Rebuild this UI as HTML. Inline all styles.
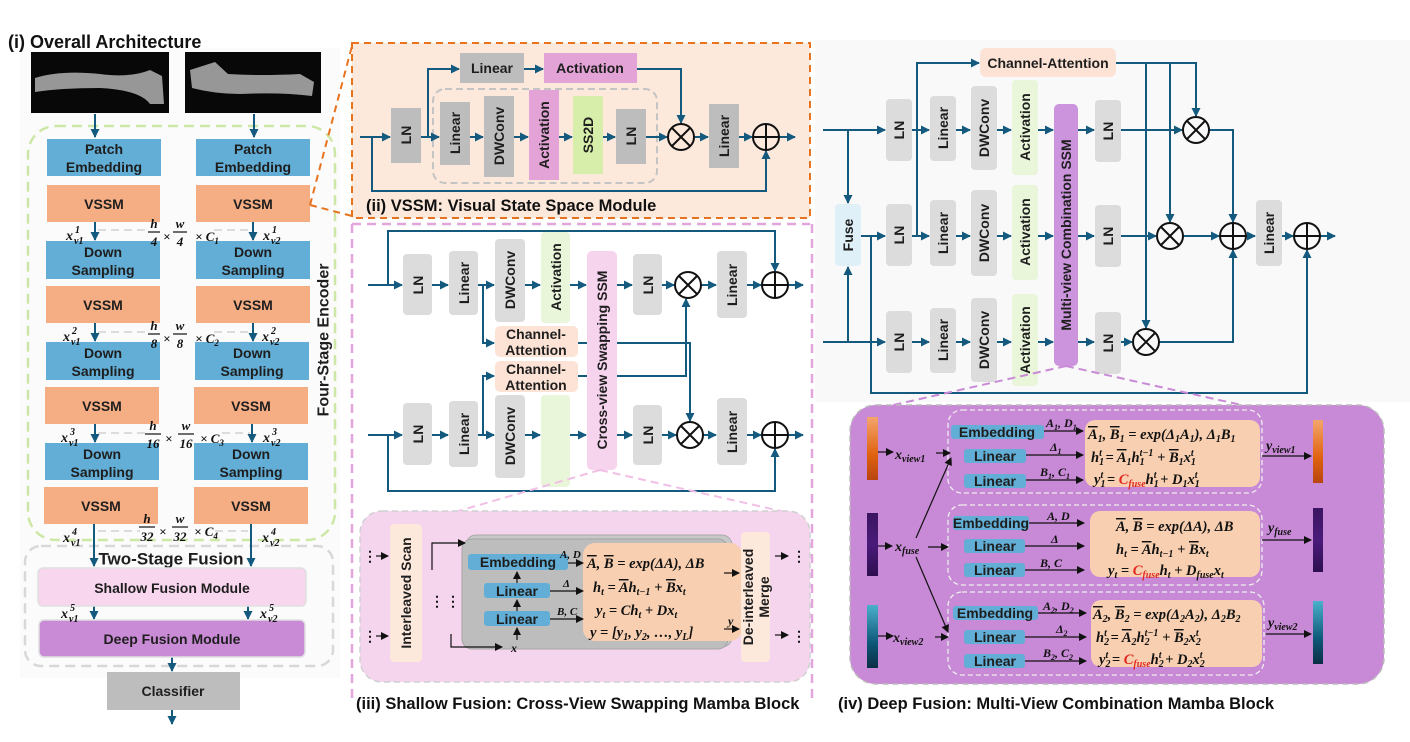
<!DOCTYPE html>
<html><head><meta charset="utf-8"><style>
html,body{margin:0;padding:0;background:#fff;}
svg{display:block;font-family:"Liberation Sans",sans-serif;}
.t{font-size:14px;font-weight:bold;fill:#1e1e1e;text-anchor:middle;dominant-baseline:central;}
.m{font-family:"Liberation Serif",serif;font-style:italic;font-weight:bold;fill:#111;}
.ln{stroke:#145a7e;stroke-width:2;fill:none;}
.bl{stroke:#111;stroke-width:1.2;fill:none;}
.c{stroke:#111;stroke-width:2;fill:none;}
.cap{font-size:16.5px;font-weight:bold;fill:#111;}
</style></head><body>
<svg width="1410" height="742" viewBox="0 0 1410 742" xmlns="http://www.w3.org/2000/svg">
<defs>
<marker id="a" markerUnits="userSpaceOnUse" markerWidth="9" markerHeight="9" refX="8" refY="4.5" orient="auto"><path d="M0,0 L9,4.5 L0,9 z" fill="#145a7e"/></marker>
<marker id="b" markerUnits="userSpaceOnUse" markerWidth="8" markerHeight="8" refX="7" refY="4" orient="auto"><path d="M0,0 L8,4 L0,8 z" fill="#111"/></marker>
<linearGradient id="g1" x1="0" y1="0" x2="0" y2="1"><stop offset="0" stop-color="#f4a56c"/><stop offset=".6" stop-color="#e0620f"/><stop offset="1" stop-color="#b84510"/></linearGradient>
<linearGradient id="g2" x1="0" y1="0" x2="0" y2="1"><stop offset="0" stop-color="#3a1560"/><stop offset=".5" stop-color="#4a1a7a"/><stop offset="1" stop-color="#2e0f50"/></linearGradient>
<linearGradient id="g3" x1="0" y1="0" x2="0" y2="1"><stop offset="0" stop-color="#4bb0cc"/><stop offset=".6" stop-color="#0e5878"/><stop offset="1" stop-color="#0a2e44"/></linearGradient>
</defs>

<rect x="20" y="48" width="320" height="630" fill="#fbfbfb"/>
<rect x="815" y="40" width="595" height="362" fill="#f9f9f9"/>

<!-- ============ LEFT PANEL ============ -->
<text x="8" y="48" font-size="18" font-weight="bold" fill="#111">(i) Overall Architecture</text>
<rect x="31" y="52" width="138" height="61" fill="#080808"/>
<path d="M35,78 Q60,70 100,74 Q130,78 150,70 L162,76 L164,104 L150,104 Q140,90 100,88 Q60,88 35,92z" fill="#b0b0b0" opacity=".85"/>
<rect x="185" y="52" width="136" height="61" fill="#080808"/>
<path d="M190,70 L215,62 L228,74 Q260,76 300,74 L314,82 L312,96 Q280,92 240,94 Q215,94 192,88z" fill="#b0b0b0" opacity=".85"/>
<rect x="28" y="126" width="307" height="414" rx="28" fill="none" stroke="#cde8a6" stroke-width="2.5" stroke-dasharray="10,6"/>
<rect x="25" y="546" width="308" height="120" rx="16" fill="none" stroke="#d8d8d8" stroke-width="2.5" stroke-dasharray="10,6"/>

<g class="ln">
<path d="M95,114 V137" marker-end="url(#a)"/><path d="M254,114 V137" marker-end="url(#a)"/>
<path d="M95,222 V240" marker-end="url(#a)"/><path d="M253,222 V240" marker-end="url(#a)"/>
<path d="M95,323 V341" marker-end="url(#a)"/><path d="M253,323 V341" marker-end="url(#a)"/>
<path d="M95,424 V442" marker-end="url(#a)"/><path d="M252,424 V442" marker-end="url(#a)"/>
<path d="M94,524 V566" marker-end="url(#a)"/><path d="M251,524 V566" marker-end="url(#a)"/>
<path d="M94,606 V619" marker-end="url(#a)"/><path d="M248,606 V619" marker-end="url(#a)"/>
<path d="M172,657 V671" marker-end="url(#a)"/><path d="M172,710 V724" marker-end="url(#a)"/>
</g>
<g stroke="#dcdcdc" stroke-width="2" stroke-dasharray="8,5">
<path d="M98,230 H148 M214,230 H250"/><path d="M98,332 H148 M214,332 H250"/>
<path d="M98,433 H145 M222,433 H250"/><path d="M98,531 H140 M215,531 H248"/>
</g>
<g class="t">
<rect x="47" y="139" width="114" height="37" fill="#62aed6"/><text x="104" y="149">Patch</text><text x="104" y="167">Embedding</text>
<rect x="196" y="139" width="114" height="37" fill="#62aed6"/><text x="253" y="149">Patch</text><text x="253" y="167">Embedding</text>
<rect x="47" y="185" width="113" height="37" fill="#f5ad84"/><text x="104" y="204">VSSM</text>
<rect x="196" y="185" width="114" height="37" fill="#f5ad84"/><text x="253" y="204">VSSM</text>
<rect x="46" y="241" width="114" height="38" fill="#62aed6"/><text x="103" y="252">Down</text><text x="103" y="270">Sampling</text>
<rect x="196" y="241" width="114" height="38" fill="#62aed6"/><text x="253" y="252">Down</text><text x="253" y="270">Sampling</text>
<rect x="46" y="286" width="114" height="37" fill="#f5ad84"/><text x="103" y="305">VSSM</text>
<rect x="196" y="286" width="114" height="37" fill="#f5ad84"/><text x="253" y="305">VSSM</text>
<rect x="46" y="342" width="114" height="38" fill="#62aed6"/><text x="103" y="353">Down</text><text x="103" y="371">Sampling</text>
<rect x="195" y="342" width="114" height="38" fill="#62aed6"/><text x="252" y="353">Down</text><text x="252" y="371">Sampling</text>
<rect x="45" y="387" width="114" height="37" fill="#f5ad84"/><text x="102" y="406">VSSM</text>
<rect x="194" y="387" width="114" height="37" fill="#f5ad84"/><text x="251" y="406">VSSM</text>
<rect x="45" y="443" width="114" height="37" fill="#62aed6"/><text x="102" y="454">Down</text><text x="102" y="472">Sampling</text>
<rect x="194" y="443" width="114" height="37" fill="#62aed6"/><text x="251" y="454">Down</text><text x="251" y="472">Sampling</text>
<rect x="44" y="487" width="114" height="37" fill="#f5ad84"/><text x="101" y="506">VSSM</text>
<rect x="194" y="487" width="114" height="37" fill="#f5ad84"/><text x="251" y="506">VSSM</text>
<text x="171" y="559" font-size="17">Two-Stage Fusion</text>
<rect x="38" y="568" width="268" height="38" rx="5" fill="#f7d6ee" stroke="#e0e0e0" stroke-width="1.5"/><text x="172" y="588">Shallow Fusion Module</text>
<rect x="39" y="620" width="266" height="37" rx="5" fill="#c98ad6" stroke="#e0e0e0" stroke-width="1.5"/><text x="172" y="639">Deep Fusion Module</text>
<rect x="107" y="672" width="133" height="38" fill="#bdbdbd"/><text x="173" y="691">Classifier</text>
<text transform="translate(324,340) rotate(-90)" font-size="16">Four-Stage Encoder</text>
</g>
<!-- x_v labels -->
<g class="m" font-size="14">
<text x="66" y="240">x</text><text x="74" y="244" font-size="10">v1</text><text x="75" y="233" font-size="10">1</text>
<text x="263" y="240">x</text><text x="271" y="244" font-size="10">v2</text><text x="272" y="233" font-size="10">1</text>
<text x="63" y="341">x</text><text x="71" y="345" font-size="10">v1</text><text x="72" y="334" font-size="10">2</text>
<text x="262" y="341">x</text><text x="270" y="345" font-size="10">v2</text><text x="271" y="334" font-size="10">2</text>
<text x="61" y="442">x</text><text x="69" y="446" font-size="10">v1</text><text x="70" y="435" font-size="10">3</text>
<text x="263" y="442">x</text><text x="271" y="446" font-size="10">v2</text><text x="272" y="435" font-size="10">3</text>
<text x="63" y="542">x</text><text x="71" y="546" font-size="10">v1</text><text x="72" y="535" font-size="10">4</text>
<text x="262" y="542">x</text><text x="270" y="546" font-size="10">v2</text><text x="271" y="535" font-size="10">4</text>
<text x="61" y="618">x</text><text x="69" y="622" font-size="10">v1</text><text x="70" y="611" font-size="10">5</text>
<text x="260" y="618">x</text><text x="268" y="622" font-size="10">v2</text><text x="269" y="611" font-size="10">5</text>
</g>
<g class="m" font-size="13" text-anchor="middle">
<text x="154" y="228">h</text><text x="154" y="246">4</text><line x1="148" y1="232" x2="160" y2="232" stroke="#111" stroke-width="1.2"/>
<text x="167" y="241" font-style="normal">×</text>
<text x="180" y="228">w</text><text x="180" y="246">4</text><line x1="173" y1="232" x2="187" y2="232" stroke="#111" stroke-width="1.2"/>
<text x="207" y="241">× C<tspan font-size="9" dy="3">1</tspan></text>
<text x="154" y="330">h</text><text x="154" y="348">8</text><line x1="148" y1="334" x2="160" y2="334" stroke="#111" stroke-width="1.2"/>
<text x="167" y="343" font-style="normal">×</text>
<text x="180" y="330">w</text><text x="180" y="348">8</text><line x1="173" y1="334" x2="187" y2="334" stroke="#111" stroke-width="1.2"/>
<text x="207" y="343">× C<tspan font-size="9" dy="3">2</tspan></text>
<text x="153" y="430">h</text><text x="153" y="448">16</text><line x1="145" y1="434" x2="161" y2="434" stroke="#111" stroke-width="1.2"/>
<text x="169" y="443" font-style="normal">×</text>
<text x="186" y="430">w</text><text x="186" y="448">16</text><line x1="178" y1="434" x2="194" y2="434" stroke="#111" stroke-width="1.2"/>
<text x="212" y="443">× C<tspan font-size="9" dy="3">3</tspan></text>
<text x="147" y="523">h</text><text x="147" y="541">32</text><line x1="139" y1="527" x2="155" y2="527" stroke="#111" stroke-width="1.2"/>
<text x="163" y="536" font-style="normal">×</text>
<text x="180" y="523">w</text><text x="180" y="541">32</text><line x1="172" y1="527" x2="188" y2="527" stroke="#111" stroke-width="1.2"/>
<text x="206" y="536">× C<tspan font-size="9" dy="3">4</tspan></text>
</g>

<path d="M310,205 L352,46" stroke="#e8731f" stroke-width="2" stroke-dasharray="7,5" fill="none"/>
<path d="M310,205 L352,216" stroke="#e8731f" stroke-width="2" stroke-dasharray="7,5" fill="none"/>

<!-- ============ PANEL ii VSSM ============ -->
<rect x="352" y="43" width="458" height="175" fill="#fde9dc" stroke="#e8731f" stroke-width="2" stroke-dasharray="7,5"/>
<rect x="433" y="89" width="224" height="94" rx="12" fill="none" stroke="#c4c4c4" stroke-width="2" stroke-dasharray="7,4"/>
<g class="ln">
<path d="M360,137 H390" marker-end="url(#a)"/><path d="M421,137 H439" marker-end="url(#a)"/>
<path d="M470,137 H483" marker-end="url(#a)"/><path d="M514,137 H528" marker-end="url(#a)"/>
<path d="M559,137 H572" marker-end="url(#a)"/><path d="M603,137 H615" marker-end="url(#a)"/>
<path d="M646,137 H667" marker-end="url(#a)"/><path d="M694,137 H708" marker-end="url(#a)"/>
<path d="M739,137 H752" marker-end="url(#a)"/><path d="M779,137 H795" marker-end="url(#a)"/>
<path d="M428,137 V69 H459" marker-end="url(#a)"/><path d="M524,69 H543" marker-end="url(#a)"/>
<path d="M637,69 H681 V123" marker-end="url(#a)"/>
<path d="M372,137 V191 H766 V151" marker-end="url(#a)"/>
</g>
<g class="t">
<rect x="391" y="108" width="30" height="55" fill="#bdbdbd"/><text transform="translate(406,135) rotate(-90)">LN</text>
<rect x="460" y="53" width="64" height="30" fill="#bdbdbd"/><text x="492" y="68">Linear</text>
<rect x="544" y="53" width="93" height="30" fill="#e4a3d6"/><text x="590" y="68">Activation</text>
<rect x="440" y="102" width="30" height="63" fill="#bdbdbd"/><text transform="translate(455,133) rotate(-90)">Linear</text>
<rect x="484" y="96" width="30" height="81" fill="#bdbdbd"/><text transform="translate(499,136) rotate(-90)">DWConv</text>
<rect x="529" y="90" width="30" height="90" fill="#e4a3d6"/><text transform="translate(544,135) rotate(-90)">Activation</text>
<rect x="573" y="96" width="30" height="78" fill="#d7eeaa"/><text transform="translate(588,135) rotate(-90)">SS2D</text>
<rect x="616" y="109" width="30" height="55" fill="#bdbdbd"/><text transform="translate(631,136) rotate(-90)">LN</text>
<rect x="709" y="104" width="30" height="64" fill="#bdbdbd"/><text transform="translate(724,136) rotate(-90)">Linear</text>
</g>
<circle cx="681" cy="137" r="13" class="c"/><path d="M672,128 L690,146 M690,128 L672,146" class="c"/>
<circle cx="766" cy="137" r="13" class="c"/><path d="M753,137 H779 M766,124 V150" class="c"/>
<text x="366" y="211" class="cap" font-size="17">(ii) VSSM: Visual State Space Module</text>

<!-- ============ PANEL iii ============ -->
<path d="M352,224 H810 M352,224 V700 M812,224 V700" stroke="#e2a6dc" stroke-width="2.5" stroke-dasharray="9,6" fill="none"/>
<g class="ln">
<path d="M368,285 H402" marker-end="url(#a)"/><path d="M432,285 H448" marker-end="url(#a)"/>
<path d="M478,285 H494" marker-end="url(#a)"/><path d="M525,285 H540" marker-end="url(#a)"/>
<path d="M570,285 H586" marker-end="url(#a)"/><path d="M617,285 H632" marker-end="url(#a)"/>
<path d="M662,285 H674" marker-end="url(#a)"/><path d="M701,285 H716" marker-end="url(#a)"/>
<path d="M747,285 H761" marker-end="url(#a)"/><path d="M788,285 H803" marker-end="url(#a)"/>
<path d="M388,285 V231 H775 V271" marker-end="url(#a)"/>
<path d="M368,435 H402" marker-end="url(#a)"/><path d="M432,435 H448" marker-end="url(#a)"/>
<path d="M478,435 H494" marker-end="url(#a)"/><path d="M525,435 H540" marker-end="url(#a)"/>
<path d="M570,435 H586" marker-end="url(#a)"/><path d="M617,435 H632" marker-end="url(#a)"/>
<path d="M662,435 H676" marker-end="url(#a)"/><path d="M703,435 H716" marker-end="url(#a)"/>
<path d="M747,435 H761" marker-end="url(#a)"/><path d="M788,435 H803" marker-end="url(#a)"/>
<path d="M388,435 V491 H775 V449" marker-end="url(#a)"/>
<path d="M483,285 V343 H494" marker-end="url(#a)"/><path d="M483,435 V376 H494" marker-end="url(#a)"/>
<path d="M578,343 H690 V421" marker-end="url(#a)"/><path d="M578,376 H686 V299" marker-end="url(#a)"/>
</g>
<g class="t">
<rect x="403" y="254" width="29" height="61" rx="4" fill="#dcdcdc"/><text transform="translate(418,285) rotate(-90)">LN</text>
<rect x="449" y="251" width="29" height="64" rx="4" fill="#dcdcdc"/><text transform="translate(464,283) rotate(-90)">Linear</text>
<rect x="495" y="239" width="30" height="83" rx="4" fill="#dcdcdc"/><text transform="translate(510,280) rotate(-90)">DWConv</text>
<rect x="541" y="232" width="29" height="91" rx="4" fill="#e9f6d9"/><text transform="translate(556,277) rotate(-90)">Activation</text>
<rect x="633" y="254" width="29" height="61" rx="4" fill="#dcdcdc"/><text transform="translate(648,285) rotate(-90)">LN</text>
<rect x="717" y="251" width="30" height="67" rx="4" fill="#dcdcdc"/><text transform="translate(732,285) rotate(-90)">Linear</text>
<rect x="495" y="326" width="83" height="31" rx="5" fill="#fde3d5"/><text x="536" y="334">Channel-</text><text x="536" y="350">Attention</text>
<rect x="495" y="361" width="83" height="31" rx="5" fill="#fde3d5"/><text x="536" y="369">Channel-</text><text x="536" y="385">Attention</text>
<rect x="403" y="403" width="29" height="62" rx="4" fill="#dcdcdc"/><text transform="translate(418,434) rotate(-90)">LN</text>
<rect x="449" y="401" width="29" height="66" rx="4" fill="#dcdcdc"/><text transform="translate(464,434) rotate(-90)">Linear</text>
<rect x="495" y="395" width="30" height="83" rx="4" fill="#dcdcdc"/><text transform="translate(510,436) rotate(-90)">DWConv</text>
<rect x="541" y="395" width="29" height="92" rx="4" fill="#e9f6d9"/>
<rect x="633" y="405" width="29" height="60" rx="4" fill="#dcdcdc"/><text transform="translate(648,435) rotate(-90)">LN</text>
<rect x="717" y="398" width="30" height="67" rx="4" fill="#dcdcdc"/><text transform="translate(732,432) rotate(-90)">Linear</text>
<rect x="587" y="251" width="30" height="219" rx="5" fill="#f7d4ee"/><text transform="translate(602,360) rotate(-90)">Cross-view Swapping SSM</text>
</g>
<circle cx="688" cy="285" r="13" class="c"/><path d="M679,276 L697,294 M697,276 L679,294" class="c"/>
<circle cx="775" cy="285" r="13" class="c"/><path d="M762,285 H788 M775,272 V298" class="c"/>
<circle cx="690" cy="435" r="13" class="c"/><path d="M681,426 L699,444 M699,426 L681,444" class="c"/>
<circle cx="775" cy="435" r="13" class="c"/><path d="M762,435 H788 M775,422 V448" class="c"/>
<path d="M600,470 L455,512 M600,470 L785,512" stroke="#f1bfe6" stroke-width="2" stroke-dasharray="8,5" fill="none"/>

<rect x="360" y="511" width="450" height="171" rx="22" fill="#f5d5ee" stroke="#d0d0d0" stroke-width="1.5" stroke-dasharray="6,4"/>
<rect x="390" y="524" width="32" height="138" rx="4" fill="#fde8dc"/>
<text class="t" transform="translate(406,593) rotate(-90)">Interleaved Scan</text>
<rect x="466" y="535" width="266" height="112" rx="10" fill="#c8c8c8" stroke="#aaa"/>
<rect x="462" y="539" width="266" height="110" rx="10" fill="#bdbdbd" stroke="#a5a5a5"/>
<rect x="583" y="543" width="159" height="98" rx="12" fill="#f8cfb0"/>
<rect x="741" y="532" width="29" height="130" rx="4" fill="#fde8dc"/>
<text class="t" transform="translate(748,597) rotate(-90)">De-interleaved</text>
<text class="t" transform="translate(764,597) rotate(-90)">Merge</text>
<g class="t">
<rect x="468" y="554" width="100" height="16" rx="3" fill="#62aed6"/><text x="518" y="562">Embedding</text>
<rect x="484" y="583" width="66" height="15" rx="3" fill="#62aed6"/><text x="517" y="591">Linear</text>
<rect x="484" y="611" width="66" height="15" rx="3" fill="#62aed6"/><text x="517" y="619">Linear</text>
</g>
<g class="bl">
<path d="M376,556 H388" marker-end="url(#b)"/><path d="M376,636 H388" marker-end="url(#b)"/>
<path d="M432,570 V543 H465" marker-end="url(#b)"/><path d="M451,634 V647 H502" marker-end="url(#b)"/>
<path d="M517,640 V628" marker-end="url(#b)"/><path d="M517,611 V600" marker-end="url(#b)"/><path d="M517,583 V572" marker-end="url(#b)"/>
<path d="M568,563 H583" marker-end="url(#b)"/><path d="M550,591 H583" marker-end="url(#b)"/><path d="M550,619 H583" marker-end="url(#b)"/>
<path d="M724,573 H739" marker-end="url(#b)"/><path d="M724,629 H739" marker-end="url(#b)"/>
<path d="M775,556 H788" marker-end="url(#b)"/><path d="M775,635 H788" marker-end="url(#b)"/>
</g>
<g font-size="14" font-weight="bold" fill="#111">
<text x="363" y="561">⋮</text><text x="363" y="641">⋮</text><text x="430" y="606">⋮</text><text x="446" y="606">⋮</text>
<text x="792" y="561">⋮</text><text x="792" y="641">⋮</text>
</g>
<g class="m" font-size="14.5">
<text x="560" y="558" font-size="11">A, D</text><text x="563" y="587" font-size="11">Δ</text><text x="557" y="615" font-size="11">B, C</text>
<text x="511" y="652" font-size="12">x</text><text x="728" y="625" font-size="12">y</text>
<text x="587" y="568"><tspan text-decoration="overline">A</tspan>, <tspan text-decoration="overline">B</tspan> = exp(ΔA), ΔB</text>
<text x="593" y="592">h<tspan font-size="10" dy="3">t</tspan><tspan dy="-3"> = </tspan><tspan text-decoration="overline">A</tspan>h<tspan font-size="10" dy="3">t−1</tspan><tspan dy="-3"> + </tspan><tspan text-decoration="overline">B</tspan>x<tspan font-size="10" dy="3">t</tspan></text>
<text x="596" y="615">y<tspan font-size="10" dy="3">t</tspan><tspan dy="-3"> = Ch</tspan><tspan font-size="10" dy="3">t</tspan><tspan dy="-3"> + Dx</tspan><tspan font-size="10" dy="3">t</tspan></text>
<text x="590" y="637">y = [y<tspan font-size="10" dy="3">1</tspan><tspan dy="-3">, y</tspan><tspan font-size="10" dy="3">2</tspan><tspan dy="-3">, …, y</tspan><tspan font-size="10" dy="3">L</tspan><tspan dy="-3">]</tspan></text>
</g>
<text x="356" y="709" class="cap">(iii) Shallow Fusion: Cross-View Swapping Mamba Block</text>

<!-- ============ PANEL iv (top) ============ -->
<g class="ln">
<path d="M823,130 H885" marker-end="url(#a)"/><path d="M823,342 H885" marker-end="url(#a)"/>
<path d="M848,130 V203" marker-end="url(#a)"/><path d="M848,342 V267" marker-end="url(#a)"/>
<path d="M861,236 H885" marker-end="url(#a)"/>
<path d="M871,236 V393 H1307 V250" marker-end="url(#a)"/>
<path d="M917,236 V63 H979" marker-end="url(#a)"/>
<path d="M1116,63 H1196 V116" marker-end="url(#a)"/><path d="M1146,63 V328" marker-end="url(#a)"/><path d="M1170,63 V222" marker-end="url(#a)"/>
<path d="M912,130 H929" marker-end="url(#a)"/><path d="M956,130 H970" marker-end="url(#a)"/><path d="M997,130 H1011" marker-end="url(#a)"/><path d="M1038,130 H1053" marker-end="url(#a)"/><path d="M1078,130 H1094" marker-end="url(#a)"/><path d="M1121,130 H1182" marker-end="url(#a)"/>
<path d="M912,236 H929" marker-end="url(#a)"/><path d="M956,236 H970" marker-end="url(#a)"/><path d="M997,236 H1011" marker-end="url(#a)"/><path d="M1038,236 H1053" marker-end="url(#a)"/><path d="M1078,236 H1094" marker-end="url(#a)"/><path d="M1121,236 H1156" marker-end="url(#a)"/>
<path d="M912,342 H929" marker-end="url(#a)"/><path d="M956,342 H970" marker-end="url(#a)"/><path d="M997,342 H1011" marker-end="url(#a)"/><path d="M1038,342 H1053" marker-end="url(#a)"/><path d="M1078,342 H1094" marker-end="url(#a)"/><path d="M1121,342 H1132" marker-end="url(#a)"/>
<path d="M1183,236 H1219" marker-end="url(#a)"/><path d="M1209,130 H1233 V222" marker-end="url(#a)"/><path d="M1159,342 H1233 V250" marker-end="url(#a)"/>
<path d="M1246,236 H1255" marker-end="url(#a)"/><path d="M1282,236 H1293" marker-end="url(#a)"/><path d="M1320,236 H1335" marker-end="url(#a)"/>
</g>
<g class="t">
<rect x="835" y="204" width="26" height="62" rx="4" fill="#dff0f8"/><text transform="translate(848,235) rotate(-90)">Fuse</text>
<rect x="980" y="48" width="136" height="29" rx="6" fill="#fde3d5"/><text x="1048" y="63">Channel-Attention</text>
<rect x="886" y="99" width="26" height="62" rx="4" fill="#dcdcdc"/><text transform="translate(899,130) rotate(-90)">LN</text>
<rect x="886" y="204" width="26" height="62" rx="4" fill="#dcdcdc"/><text transform="translate(899,235) rotate(-90)">LN</text>
<rect x="886" y="311" width="26" height="62" rx="4" fill="#dcdcdc"/><text transform="translate(899,342) rotate(-90)">LN</text>
<rect x="930" y="96" width="26" height="65" rx="4" fill="#dcdcdc"/><text transform="translate(943,128) rotate(-90)">Linear</text>
<rect x="930" y="200" width="26" height="66" rx="4" fill="#dcdcdc"/><text transform="translate(943,233) rotate(-90)">Linear</text>
<rect x="930" y="308" width="26" height="65" rx="4" fill="#dcdcdc"/><text transform="translate(943,340) rotate(-90)">Linear</text>
<rect x="971" y="86" width="26" height="84" rx="4" fill="#dcdcdc"/><text transform="translate(984,128) rotate(-90)">DWConv</text>
<rect x="971" y="190" width="26" height="86" rx="4" fill="#dcdcdc"/><text transform="translate(984,233) rotate(-90)">DWConv</text>
<rect x="971" y="298" width="26" height="84" rx="4" fill="#dcdcdc"/><text transform="translate(984,340) rotate(-90)">DWConv</text>
<rect x="1012" y="80" width="26" height="95" rx="4" fill="#e9f6d9"/><text transform="translate(1025,127) rotate(-90)">Activation</text>
<rect x="1012" y="185" width="26" height="95" rx="4" fill="#e9f6d9"/><text transform="translate(1025,232) rotate(-90)">Activation</text>
<rect x="1012" y="294" width="26" height="92" rx="4" fill="#e9f6d9"/><text transform="translate(1025,340) rotate(-90)">Activation</text>
<rect x="1054" y="104" width="24" height="262" rx="5" fill="#cc94dd"/><text transform="translate(1066,235) rotate(-90)">Multi-view Combination SSM</text>
<rect x="1095" y="100" width="26" height="62" rx="4" fill="#dcdcdc"/><text transform="translate(1108,131) rotate(-90)">LN</text>
<rect x="1095" y="205" width="26" height="62" rx="4" fill="#dcdcdc"/><text transform="translate(1108,236) rotate(-90)">LN</text>
<rect x="1095" y="312" width="26" height="62" rx="4" fill="#dcdcdc"/><text transform="translate(1108,343) rotate(-90)">LN</text>
<rect x="1256" y="200" width="26" height="66" rx="4" fill="#dcdcdc"/><text transform="translate(1269,233) rotate(-90)">Linear</text>
</g>
<circle cx="1196" cy="130" r="13" class="c"/><path d="M1187,121 L1205,139 M1205,121 L1187,139" class="c"/>
<circle cx="1170" cy="236" r="13" class="c"/><path d="M1161,227 L1179,245 M1179,227 L1161,245" class="c"/>
<circle cx="1146" cy="342" r="13" class="c"/><path d="M1137,333 L1155,351 M1155,333 L1137,351" class="c"/>
<circle cx="1233" cy="236" r="13" class="c"/><path d="M1220,236 H1246 M1233,223 V249" class="c"/>
<circle cx="1307" cy="236" r="13" class="c"/><path d="M1294,236 H1320 M1307,223 V249" class="c"/>
<path d="M1066,366 L880,408 M1066,366 L1255,408" stroke="#c98ad6" stroke-width="2" stroke-dasharray="8,5" fill="none"/>

<!-- ============ PANEL iv (bottom) ============ -->
<rect x="850" y="405" width="534" height="279" rx="26" fill="#c88ad6" stroke="#bbb" stroke-width="1.5" stroke-dasharray="6,4"/>
<rect x="867" y="417" width="11" height="63" fill="url(#g1)"/>
<rect x="867" y="513" width="11" height="63" fill="url(#g2)"/>
<rect x="867" y="605" width="11" height="63" fill="url(#g3)"/>
<rect x="1313" y="420" width="10" height="63" fill="url(#g1)"/>
<rect x="1313" y="508" width="10" height="64" fill="url(#g2)"/>
<rect x="1313" y="601" width="10" height="63" fill="url(#g3)"/>
<g fill="none" stroke="#eee" stroke-width="1.3" stroke-dasharray="5,3">
<rect x="948" y="410" width="314" height="83" rx="14"/>
<rect x="948" y="505" width="314" height="80" rx="14"/>
<rect x="948" y="592" width="316" height="83" rx="14"/>
</g>
<rect x="1085" y="420" width="175" height="67" rx="10" fill="#f8cfb0"/>
<rect x="1090" y="511" width="170" height="66" rx="10" fill="#f8cfb0"/>
<rect x="1091" y="600" width="171" height="67" rx="10" fill="#f8cfb0"/>
<g class="t">
<rect x="951" y="425" width="93" height="14" rx="3" fill="#62aed6"/><text x="997" y="432">Embedding</text>
<rect x="964" y="449" width="62" height="14" rx="3" fill="#62aed6"/><text x="995" y="456">Linear</text>
<rect x="964" y="474" width="62" height="14" rx="3" fill="#62aed6"/><text x="995" y="481">Linear</text>
<rect x="953" y="516" width="76" height="14" rx="3" fill="#62aed6"/><text x="991" y="523">Embedding</text>
<rect x="964" y="539" width="61" height="14" rx="3" fill="#62aed6"/><text x="995" y="546">Linear</text>
<rect x="964" y="563" width="61" height="14" rx="3" fill="#62aed6"/><text x="995" y="570">Linear</text>
<rect x="953" y="606" width="85" height="14" rx="3" fill="#62aed6"/><text x="995" y="613">Embedding</text>
<rect x="964" y="630" width="61" height="14" rx="3" fill="#62aed6"/><text x="995" y="637">Linear</text>
<rect x="964" y="654" width="61" height="14" rx="3" fill="#62aed6"/><text x="995" y="661">Linear</text>
</g>
<g class="bl">
<path d="M878,452 H893" marker-end="url(#b)"/><path d="M936,453 H950" marker-end="url(#b)"/>
<path d="M878,546 H892" marker-end="url(#b)"/><path d="M928,547 H948" marker-end="url(#b)"/>
<path d="M878,636 H893" marker-end="url(#b)"/><path d="M935,637 H948" marker-end="url(#b)"/>
<path d="M916,538 L951,458" marker-end="url(#b)"/><path d="M916,557 L948,632" marker-end="url(#b)"/>
<path d="M1044,431 H1083" marker-end="url(#b)"/><path d="M1026,455 H1083" marker-end="url(#b)"/><path d="M1026,480 H1083" marker-end="url(#b)"/>
<path d="M1029,523 H1084" marker-end="url(#b)"/><path d="M1025,546 H1084" marker-end="url(#b)"/><path d="M1025,570 H1084" marker-end="url(#b)"/>
<path d="M1038,613 H1086" marker-end="url(#b)"/><path d="M1025,637 H1086" marker-end="url(#b)"/><path d="M1025,661 H1086" marker-end="url(#b)"/>
<path d="M1262,456 H1311" marker-end="url(#b)"/><path d="M1262,540 H1311" marker-end="url(#b)"/><path d="M1266,634 H1311" marker-end="url(#b)"/>
</g>
<g class="m" font-size="14">
<text x="895" y="459">x<tspan font-size="10" dy="3">view1</tspan></text>
<text x="895" y="551">x<tspan font-size="10" dy="3">fuse</tspan></text>
<text x="893" y="642">x<tspan font-size="10" dy="3">view2</tspan></text>
<text x="1266" y="450">y<tspan font-size="10" dy="3">view1</tspan></text>
<text x="1268" y="532">y<tspan font-size="10" dy="3">fuse</tspan></text>
<text x="1268" y="627">y<tspan font-size="10" dy="3">view2</tspan></text>
<text x="1046" y="427" font-size="12">A<tspan font-size="8" dy="3">1</tspan><tspan dy="-3">, D</tspan><tspan font-size="8" dy="3">1</tspan></text>
<text x="1050" y="451" font-size="12">Δ<tspan font-size="8" dy="3">1</tspan></text>
<text x="1040" y="476" font-size="12">B<tspan font-size="8" dy="3">1</tspan><tspan dy="-3">, C</tspan><tspan font-size="8" dy="3">1</tspan></text>
<text x="1047" y="520" font-size="12">A, D</text><text x="1051" y="543" font-size="12">Δ</text><text x="1040" y="567" font-size="12">B, C</text>
<text x="1043" y="610" font-size="12">A<tspan font-size="8" dy="3">2</tspan><tspan dy="-3">, D</tspan><tspan font-size="8" dy="3">2</tspan></text>
<text x="1056" y="633" font-size="12">Δ<tspan font-size="8" dy="3">2</tspan></text>
<text x="1043" y="657" font-size="12">B<tspan font-size="8" dy="3">2</tspan><tspan dy="-3">, C</tspan><tspan font-size="8" dy="3">2</tspan></text>
</g>
<g class="m" font-size="14.5">
<text x="1088" y="439"><tspan text-decoration="overline">A</tspan><tspan font-size="10" dy="3">1</tspan><tspan dy="-3">, </tspan><tspan text-decoration="overline">B</tspan><tspan font-size="10" dy="3">1</tspan><tspan dy="-3"> = exp(Δ</tspan><tspan font-size="10" dy="3">1</tspan><tspan dy="-3">A</tspan><tspan font-size="10" dy="3">1</tspan><tspan dy="-3">), Δ</tspan><tspan font-size="10" dy="3">1</tspan><tspan dy="-3">B</tspan><tspan font-size="10" dy="3">1</tspan></text>
<text x="1091" y="462">h<tspan font-size="10" dy="3">1</tspan><tspan font-size="10" dx="-5" dy="-9">t</tspan><tspan dy="6"> = </tspan><tspan text-decoration="overline">A</tspan><tspan font-size="10" dy="3">1</tspan><tspan dy="-3">h</tspan><tspan font-size="10" dy="3">1</tspan><tspan font-size="10" dx="-5" dy="-9">t−1</tspan><tspan dy="6"> + </tspan><tspan text-decoration="overline">B</tspan><tspan font-size="10" dy="3">1</tspan><tspan dy="-3">x</tspan><tspan font-size="10" dy="3">1</tspan><tspan font-size="10" dx="-5" dy="-9">t</tspan></text>
<text x="1094" y="484">y<tspan font-size="10" dy="3">1</tspan><tspan font-size="10" dx="-5" dy="-9">t</tspan><tspan dy="6"> = </tspan><tspan fill="#e0281e">C</tspan><tspan fill="#e0281e" font-size="10" dy="3">fuse</tspan><tspan dy="-3">h</tspan><tspan font-size="10" dy="3">1</tspan><tspan font-size="10" dx="-5" dy="-9">t</tspan><tspan dy="6"> + D</tspan><tspan font-size="10" dy="3">1</tspan><tspan dy="-3">x</tspan><tspan font-size="10" dy="3">1</tspan><tspan font-size="10" dx="-5" dy="-9">t</tspan></text>
<text x="1116" y="531"><tspan text-decoration="overline">A</tspan>, <tspan text-decoration="overline">B</tspan> = exp(ΔA), ΔB</text>
<text x="1116" y="554">h<tspan font-size="10" dy="3">t</tspan><tspan dy="-3"> = </tspan><tspan text-decoration="overline">A</tspan>h<tspan font-size="10" dy="3">t−1</tspan><tspan dy="-3"> + </tspan><tspan text-decoration="overline">B</tspan>x<tspan font-size="10" dy="3">t</tspan></text>
<text x="1108" y="575">y<tspan font-size="10" dy="3">t</tspan><tspan dy="-3"> = </tspan><tspan fill="#e0281e">C</tspan><tspan fill="#e0281e" font-size="10" dy="3">fuse</tspan><tspan dy="-3">h</tspan><tspan font-size="10" dy="3">t</tspan><tspan dy="-3"> + D</tspan><tspan font-size="10" dy="3">fuse</tspan><tspan dy="-3">x</tspan><tspan font-size="10" dy="3">t</tspan></text>
<text x="1093" y="619"><tspan text-decoration="overline">A</tspan><tspan font-size="10" dy="3">2</tspan><tspan dy="-3">, </tspan><tspan text-decoration="overline">B</tspan><tspan font-size="10" dy="3">2</tspan><tspan dy="-3"> = exp(Δ</tspan><tspan font-size="10" dy="3">2</tspan><tspan dy="-3">A</tspan><tspan font-size="10" dy="3">2</tspan><tspan dy="-3">), Δ</tspan><tspan font-size="10" dy="3">2</tspan><tspan dy="-3">B</tspan><tspan font-size="10" dy="3">2</tspan></text>
<text x="1096" y="642">h<tspan font-size="10" dy="3">2</tspan><tspan font-size="10" dx="-5" dy="-9">t</tspan><tspan dy="6"> = </tspan><tspan text-decoration="overline">A</tspan><tspan font-size="10" dy="3">2</tspan><tspan dy="-3">h</tspan><tspan font-size="10" dy="3">2</tspan><tspan font-size="10" dx="-5" dy="-9">t−1</tspan><tspan dy="6"> + </tspan><tspan text-decoration="overline">B</tspan><tspan font-size="10" dy="3">2</tspan><tspan dy="-3">x</tspan><tspan font-size="10" dy="3">2</tspan><tspan font-size="10" dx="-5" dy="-9">t</tspan></text>
<text x="1099" y="664">y<tspan font-size="10" dy="3">2</tspan><tspan font-size="10" dx="-5" dy="-9">t</tspan><tspan dy="6"> = </tspan><tspan fill="#e0281e">C</tspan><tspan fill="#e0281e" font-size="10" dy="3">fuse</tspan><tspan dy="-3">h</tspan><tspan font-size="10" dy="3">2</tspan><tspan font-size="10" dx="-5" dy="-9">t</tspan><tspan dy="6"> + D</tspan><tspan font-size="10" dy="3">2</tspan><tspan dy="-3">x</tspan><tspan font-size="10" dy="3">2</tspan><tspan font-size="10" dx="-5" dy="-9">t</tspan></text>
</g>
<text x="838" y="709" class="cap">(iv) Deep Fusion: Multi-View Combination Mamba Block</text>
</svg>
</body></html>
